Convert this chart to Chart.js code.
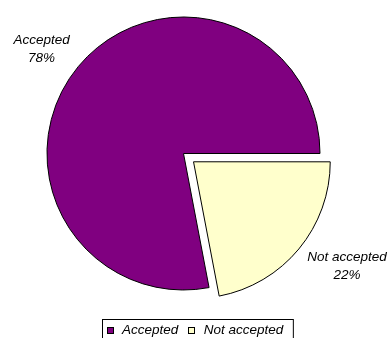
<!DOCTYPE html>
<html>
<head>
<meta charset="utf-8">
<script src="https://cdn.jsdelivr.net/npm/chart.js@4/dist/chart.umd.min.js"></script>
<style>
    html, body { margin:0; padding:0; background:#ffffff; overflow:hidden; }
    #divGraph { position:relative; width:388px; height:338px; }
</style>
</head>
<body>
<div id="divGraph"><canvas id="canvasGraph"></canvas></div>
<script>
// Donnees du graphique
var categories = ['Accepted', 'Not accepted'];
var pourcentages = [78, 22];
var couleurs = ['#800080', '#FFFFCC'];
var decalages = [0, 52];

var policeTexte = 'italic 13.5px "Liberation Sans", Arial, sans-serif';

// Etiquettes "nom + pourcentage" a l'exterieur de chaque part
var pluginEtiquettes = {
    id: 'etiquettes',
    afterDatasetsDraw: function(chart)
    {
        var ctx = chart.ctx;
        var arcs = chart.getDatasetMeta(0).data;
        ctx.save();
        ctx.font = policeTexte;
        ctx.fillStyle = '#000000';
        ctx.textAlign = 'center';
        ctx.textBaseline = 'middle';
        for(var i = 0; i < arcs.length; i++)
        {
            var a = arcs[i].getProps(['x', 'y', 'startAngle', 'endAngle', 'outerRadius']);
            var milieu = (a.startAngle + a.endAngle) / 2;
            var dx = Math.cos(milieu);
            var dy = Math.sin(milieu);
            var decal = (arcs[i].options.offset || 0) / 4;
            var dist = a.outerRadius + 6 + decal;
            var px = a.x + dx * dist;
            var py = a.y + dy * dist;
            var ligne1 = categories[i];
            var ligne2 = pourcentages[i] + '%';
            var w = Math.max(ctx.measureText(ligne1).width, ctx.measureText(ligne2).width);
            var h = 27;
            var cx = px + (dx < 0 ? -1 : 1) * (w / 2 + 4);
            var cy = py + (dy < 0 ? -1 : 1) * h / 2;
            ctx.fillText(ligne1, cx, cy - 9);
            ctx.fillText(ligne2, cx, cy + 9);
        }
        ctx.restore();
    }
};

// Legende encadree en bas du graphique
var pluginLegende = {
    id: 'legendeCadre',
    afterDraw: function(chart)
    {
        var ctx = chart.ctx;
        var carre = 7, espaceTexte = 8.5, espaceItem = 10;
        ctx.save();
        ctx.font = policeTexte;
        var largeurs = [];
        var total = 0;
        for(var i = 0; i < categories.length; i++)
        {
            largeurs.push(ctx.measureText(categories[i]).width);
            total += carre + espaceTexte + largeurs[i];
            if(i > 0) total += espaceItem;
        }
        var padG = 4, padD = 10;
        var largeurCadre = total + padG + padD;
        var gauche = Math.round(197 - largeurCadre / 2) + 0.5;
        var haut = 319.5;
        ctx.strokeStyle = '#000000';
        ctx.lineWidth = 1;
        ctx.strokeRect(gauche, haut, largeurCadre, 26);

        var x = gauche + padG;
        var yMilieu = 330.5;
        ctx.textBaseline = 'middle';
        ctx.textAlign = 'left';
        for(var j = 0; j < categories.length; j++)
        {
            ctx.fillStyle = couleurs[j];
            ctx.fillRect(Math.round(x), 328, carre - 1, carre - 1);
            ctx.strokeRect(Math.round(x) + 0.5, 327.5, carre - 1, carre - 1);
            x += carre + espaceTexte;
            ctx.fillStyle = '#000000';
            ctx.fillText(categories[j], x, yMilieu);
            x += largeurs[j] + espaceItem;
        }
        ctx.restore();
    }
};

var total = pourcentages.reduce(function(s, v) { return s + v; }, 0);

var chartdata = {
    labels: categories,
    datasets: [
        {
            data: pourcentages,
            backgroundColor: couleurs,
            borderColor: '#000000',
            borderWidth: 1,
            offset: decalages,
            hoverOffset: 0
        }
    ]
};

var graph = new Chart(document.getElementById('canvasGraph'), {
    type: 'pie',
    data: chartdata,
    options: {
        responsive: true,
        maintainAspectRatio: false,
        animation: false,
        radius: 136.5,
        // la part "Accepted" se termine a 3 heures
        rotation: 90 - 360 * pourcentages[0] / total,
        layout: { padding: { left: 0, top: 0, right: 21, bottom: 31 } },
        plugins: {
            legend: { display: false },
            tooltip: { enabled: false }
        }
    },
    plugins: [pluginEtiquettes, pluginLegende]
});
</script>
</body>
</html>
